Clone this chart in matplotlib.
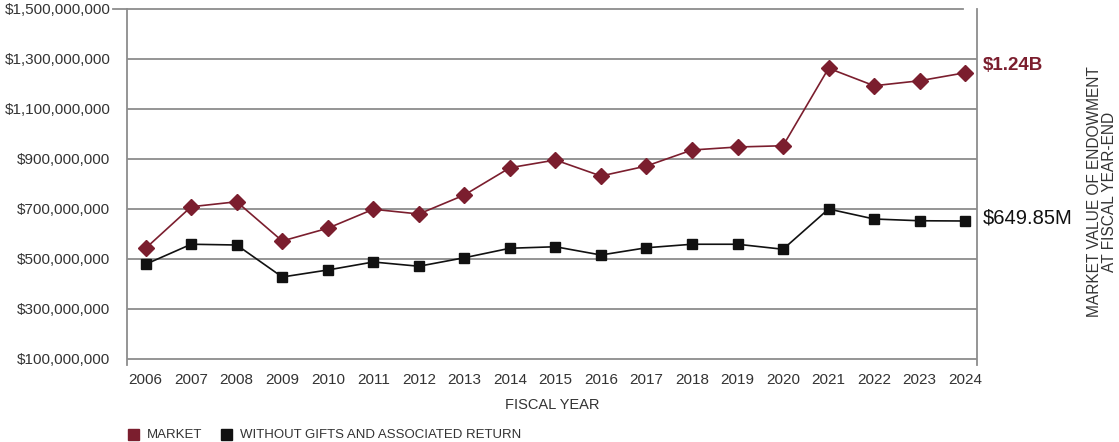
import matplotlib
matplotlib.use("Agg")
import matplotlib.pyplot as plt
from matplotlib.ticker import FuncFormatter
from matplotlib.patches import Rectangle

plt.rcParams['font.family'] = ['Liberation Sans', 'DejaVu Sans']

# fiscal years and endowment values (millions of dollars)
years = [2006, 2007, 2008, 2009, 2010, 2011, 2012, 2013, 2014, 2015,
         2016, 2017, 2018, 2019, 2020, 2021, 2022, 2023, 2024]
market = [543, 709, 729, 572, 623, 699, 680, 756, 865, 896,
          832, 872, 936, 948, 953, 1263, 1193, 1213, 1245]
without_gifts = [479, 559, 556, 428, 456, 488, 471, 505, 543, 549,
                 516, 545, 559, 559, 539, 700, 660, 653, 652]
yticks = [100, 300, 500, 700, 900, 1100, 1300, 1500]

red = '#7b1e2e'
grid_c = '#8c8c8c'
txt_c = '#333333'

fig = plt.figure(figsize=(11.19, 4.42), dpi=100)
ax = fig.add_axes([127 / 1119, (442 - 365) / 442, 850 / 1119, 356 / 442])

ax.set_xlim(2005.59, 2024.26)
ax.set_ylim(76, 1500)

# grid lines (top one is shorter and pokes out to the left)
for v in yticks[:-1]:
    ax.axhline(v, color=grid_c, lw=1.3, zorder=1)
ax.plot([-14 / 850, 836 / 850], [1500, 1500], color=grid_c, lw=1.3,
        transform=ax.get_yaxis_transform(), clip_on=False, zorder=1)

for side in ['top', 'bottom']:
    ax.spines[side].set_visible(False)
for side in ['left', 'right']:
    ax.spines[side].set_color(grid_c)
    ax.spines[side].set_linewidth(1.3)

ax.plot(years, market, color=red, lw=1.2, marker='D', ms=8, zorder=3)
ax.plot(years, without_gifts, color='#111111', lw=1.2, marker='s', ms=7.5, zorder=3)

ax.set_yticks(yticks)
ax.yaxis.set_major_formatter(FuncFormatter(lambda v, p: '${:,.0f}'.format(v * 1e6)))
ax.set_xticks(years)
ax.tick_params(axis='both', length=0, labelsize=11, labelcolor=txt_c)
ax.tick_params(axis='y', pad=12)
ax.tick_params(axis='x', pad=6)

ax.set_xlabel('FISCAL YEAR', fontsize=10.5, color=txt_c, labelpad=8)

# end labels
ax.annotate('$1.24B', xy=(983 / 1119, 1 - 66 / 442), xycoords='figure fraction',
            color=red, fontsize=13.5, fontweight='bold', va='center', ha='left')
ax.annotate('$649.85M', xy=(983 / 1119, 1 - 218 / 442), xycoords='figure fraction',
            color='#111111', fontsize=14.5, va='center', ha='left')

fig.text(1102 / 1119, 1 - 192 / 442, 'MARKET VALUE OF ENDOWMENT\nAT FISCAL YEAR-END',
         rotation=90, ha='center', va='center', fontsize=11.2, color=txt_c,
         linespacing=1.0)

# legend along the bottom
fig.patches.append(Rectangle((128 / 1119, 1 - 440 / 442), 11 / 1119, 11 / 442,
                             transform=fig.transFigure, color=red))
fig.text(147 / 1119, 1 - 435 / 442, 'MARKET', fontsize=9.5, color=txt_c, va='center')
fig.patches.append(Rectangle((221 / 1119, 1 - 440 / 442), 11 / 1119, 11 / 442,
                             transform=fig.transFigure, color='#111111'))
fig.text(240 / 1119, 1 - 435 / 442, 'WITHOUT GIFTS AND ASSOCIATED RETURN',
         fontsize=9.5, color=txt_c, va='center')

fig.savefig('out.png', dpi=100)
